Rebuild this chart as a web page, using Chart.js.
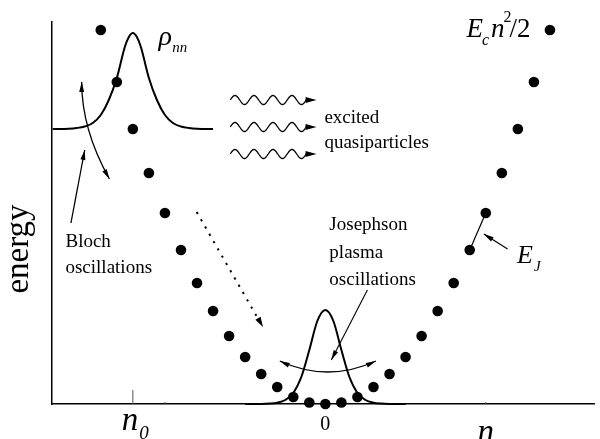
<!DOCTYPE html>
<html>
<head>
<meta charset="utf-8">
<script src="https://cdn.jsdelivr.net/npm/chart.js@4/dist/chart.umd.min.js"></script>
<style>
  html, body { margin: 0; padding: 0; background: #fff; }
  #wrap { width: 600px; height: 439px; }
</style>
</head>
<body>
<div id="wrap"><canvas id="chart"></canvas></div>
<script>
// charge states and their energies (arbitrary units)
const chargeStates = [-14,-13,-12,-11,-10,-9,-8,-7,-6,-5,-4,-3,-2,-1,0,1,2,3,4,5,6,7,8,9,10,11,12,13,14];
const energies = [374,322,275,231,191,154,121,93,68,47,30,17,7,1.5,0,1.5,7,17,30,47,68,93,121,154,191,231,275,322,374];

// wave packet rho_nn drawn on top of the n0 level
const rhoN = [-17,-16,-15.5,-15,-14.5,-14,-13.5,-13,-12.5,-12.25,-12,-11.75,-11.5,-11,-10.5,-10,-9.5,-9,-8.5,-8,-7];
const rhoE = [275,275.3,276,277.5,281,289,304,326,357,367,371,367,357,326,304,289,281,277.5,276,275.3,275];

// ground-state packet around n = 0
const groundN = [-5,-4,-3.5,-3,-2.5,-2,-1.5,-1,-0.5,0,0.5,1,1.5,2,2.5,3,3.5,4,5];
const groundE = [0,0.1,0.4,1.3,4,11,27,54,83,94,83,54,27,11,4,1.3,0.4,0.1,0];

// axis marks
const tickValues = [-12, 0, 10];
const tickLabels = ['n0', '0', 'n'];
const minorTicks = [-10, 10];

const SERIF = '"Liberation Serif", "DejaVu Serif", serif';

function arrowHead(ctx, x, y, ang, len, w) {
  ctx.save();
  ctx.translate(x, y);
  ctx.rotate(ang);
  ctx.beginPath();
  ctx.moveTo(0, 0);
  ctx.lineTo(-len, -w / 2);
  ctx.lineTo(-len, w / 2);
  ctx.closePath();
  ctx.fill();
  ctx.restore();
}

const annotations = {
  id: 'annotations',
  afterDatasetsDraw(chart) {
    const ctx = chart.ctx;
    const xs = chart.scales.x, ys = chart.scales.y;
    const X = v => xs.getPixelForValue(v);
    const Y = v => ys.getPixelForValue(v);
    ctx.save();
    ctx.fillStyle = '#000';
    ctx.strokeStyle = '#000';
    ctx.lineCap = 'butt';

    // axis tick marks
    ctx.lineWidth = 1;
    ctx.strokeStyle = '#555';
    ctx.beginPath();
    ctx.moveTo(X(tickValues[0]), Y(0));
    ctx.lineTo(X(tickValues[0]), Y(0) - 14);
    minorTicks.forEach(v => { ctx.moveTo(X(v), Y(0)); ctx.lineTo(X(v), Y(0) - 2); });
    ctx.stroke();
    ctx.strokeStyle = '#000';

    // Bloch curved double arrow
    ctx.lineWidth = 1.3;
    let p0 = [X(-15.19), Y(322)], c = [X(-15.19), Y(274.5)], p2 = [X(-13.46), Y(225)];
    ctx.beginPath();
    ctx.moveTo(p0[0], p0[1]);
    ctx.quadraticCurveTo(c[0], c[1], p2[0], p2[1]);
    ctx.stroke();
    arrowHead(ctx, p0[0], p0[1], Math.atan2(p0[1] - c[1], p0[0] - c[0]), 10, 5);
    arrowHead(ctx, p2[0], p2[1], Math.atan2(p2[1] - c[1], p2[0] - c[0]), 10, 5);

    // straight arrow from "Bloch"
    let a = [X(-15.86), Y(181)], b = [X(-15.0), Y(254)];
    ctx.beginPath(); ctx.moveTo(a[0], a[1]); ctx.lineTo(b[0], b[1]); ctx.stroke();
    arrowHead(ctx, b[0], b[1], Math.atan2(b[1] - a[1], b[0] - a[0]), 10, 5);

    // dotted arrow (relaxation)
    a = [X(-8.02), Y(192)]; b = [X(-3.89), Y(77)];
    ctx.save();
    ctx.lineWidth = 2;
    ctx.setLineDash([2.2, 6.2]);
    ctx.beginPath(); ctx.moveTo(a[0], a[1]); ctx.lineTo(b[0] - 3, b[1] - 5); ctx.stroke();
    ctx.restore();
    arrowHead(ctx, b[0], b[1], Math.atan2(b[1] - a[1], b[0] - a[0]), 10, 6);

    // plasma oscillation double arrow
    ctx.lineWidth = 1.3;
    p0 = [X(-2.84), Y(43)]; c = [X(0.15), Y(21)]; p2 = [X(3.15), Y(43)];
    ctx.beginPath();
    ctx.moveTo(p0[0], p0[1]);
    ctx.quadraticCurveTo(c[0], c[1], p2[0], p2[1]);
    ctx.stroke();
    arrowHead(ctx, p0[0], p0[1], Math.atan2(p0[1] - c[1], p0[0] - c[0]), 10, 5);
    arrowHead(ctx, p2[0], p2[1], Math.atan2(p2[1] - c[1], p2[0] - c[0]), 10, 5);

    // arrow from "Josephson plasma oscillations"
    a = [X(2.62), Y(114)]; b = [X(0.37), Y(44)];
    ctx.lineWidth = 1.1;
    ctx.beginPath(); ctx.moveTo(a[0], a[1]); ctx.lineTo(b[0], b[1]); ctx.stroke();
    arrowHead(ctx, b[0], b[1], Math.atan2(b[1] - a[1], b[0] - a[0]), 10, 5);

    // E_J coupling between neighbouring states
    ctx.lineWidth = 1.2;
    ctx.beginPath();
    ctx.moveTo(X(9), Y(energies[chargeStates.indexOf(9)]));
    ctx.lineTo(X(10), Y(energies[chargeStates.indexOf(10)]));
    ctx.stroke();
    a = [X(11.36), Y(155)]; b = [X(9.88), Y(170)];
    ctx.beginPath(); ctx.moveTo(a[0], a[1]); ctx.lineTo(b[0], b[1]); ctx.stroke();
    arrowHead(ctx, b[0], b[1], Math.atan2(b[1] - a[1], b[0] - a[0]), 10, 5);

    // wavy arrows: excited quasiparticles
    ctx.lineWidth = 1.3;
    [304, 277, 250].forEach(e => {
      const x0 = X(-5.93), x1 = X(-0.55), yc = Y(e);
      const xe = x1 - 10;
      ctx.beginPath();
      for (let x = x0; x <= xe; x += 0.5) {
        const yy = yc - 4.5 * Math.sin((x - x0) / 19 * 2 * Math.PI);
        if (x === x0) ctx.moveTo(x, yy); else ctx.lineTo(x, yy);
      }
      ctx.lineTo(x1 - 8, yc);
      ctx.stroke();
      arrowHead(ctx, x1, yc, 0, 11, 6);
    });

    // texts
    ctx.textBaseline = 'alphabetic';
    ctx.textAlign = 'left';
    const t = (s, x, y, f) => { ctx.font = f; ctx.fillText(s, x, y); return ctx.measureText(s).width; };

    t('excited', X(-0.06), Y(281), '19px ' + SERIF);
    t('quasiparticles', X(-0.06), Y(256), '19px ' + SERIF);
    t('Bloch', X(-16.2), Y(157), '19px ' + SERIF);
    t('oscillations', X(-16.2), Y(131), '19px ' + SERIF);
    t('Josephson', X(0.25), Y(174), '19px ' + SERIF);
    t('plasma', X(0.25), Y(146), '19px ' + SERIF);
    t('oscillations', X(0.25), Y(119), '19px ' + SERIF);

    // rho_nn
    t('\u03C1', X(-10.4), Y(359), 'italic 28px ' + SERIF);
    t('nn', X(-9.55), Y(352), 'italic 15px ' + SERIF);

    // E_c n^2/2
    let x = X(8.8);
    const yb = Y(367);
    x += t('E', x, yb, 'italic 27px ' + SERIF);
    t('c', x - 1, yb + 8, 'italic 16px ' + SERIF);
    x += 8;
    const wn = t('n', x, yb, 'italic 27px ' + SERIF);
    t('2', x + wn - 1, yb - 15, '16px ' + SERIF);
    x += wn + 5;
    t('/2', x, yb, '27px ' + SERIF);

    // E_J
    x = X(11.95);
    x += t('E', x, Y(141), 'italic 26px ' + SERIF);
    t('J', x + 1, Y(133), 'italic 15px ' + SERIF);

    // y-axis title
    ctx.save();
    ctx.translate(28, 249);
    ctx.rotate(-Math.PI / 2);
    ctx.textAlign = 'center';
    t('energy', 0, 0, '33px ' + SERIF);
    ctx.restore();

    // tick labels
    const yl = Y(0) + 26;
    ctx.textAlign = 'left';
    let nx = X(tickValues[0]) - 11;
    const w0 = t(tickLabels[0][0], nx, yl, 'italic 33px ' + SERIF);
    t(tickLabels[0][1], nx + w0 + 1, yl + 9, 'italic 19px ' + SERIF);
    ctx.textAlign = 'center';
    t(tickLabels[1], X(tickValues[1]), yl, '20px ' + SERIF);
    t(tickLabels[2], X(tickValues[2]), yl + 12, 'italic 33px ' + SERIF);

    ctx.restore();
  }
};

const toPts = (xsArr, ysArr) => xsArr.map((v, i) => ({ x: v, y: ysArr[i] }));

new Chart(document.getElementById('chart'), {
  type: 'scatter',
  data: {
    datasets: [
      {
        label: 'levels',
        data: toPts(chargeStates, energies),
        pointRadius: 5.3,
        pointBackgroundColor: '#000',
        pointBorderWidth: 0,
        showLine: false,
        clip: false
      },
      {
        label: 'rho',
        data: toPts(rhoN, rhoE),
        showLine: true,
        borderColor: '#000',
        borderWidth: 2,
        pointRadius: 0,
        cubicInterpolationMode: 'monotone',
        clip: false
      },
      {
        label: 'ground',
        data: toPts(groundN, groundE),
        showLine: true,
        borderColor: '#000',
        borderWidth: 2,
        pointRadius: 0,
        cubicInterpolationMode: 'monotone',
        clip: false
      }
    ]
  },
  options: {
    responsive: true,
    maintainAspectRatio: false,
    animation: false,
    layout: { padding: { left: 52, top: 22, right: 0, bottom: 35 } },
    plugins: { legend: { display: false }, tooltip: { enabled: false } },
    scales: {
      x: {
        type: 'linear', min: -17.04, max: 16.79,
        grid: { display: false, drawTicks: false },
        ticks: { display: false },
        border: { display: true, color: '#000', width: 1.5 }
      },
      y: {
        type: 'linear', min: 0, max: 382,
        grid: { display: false, drawTicks: false },
        ticks: { display: false },
        border: { display: true, color: '#000', width: 1.5 }
      }
    }
  },
  plugins: [annotations]
});
</script>
</body>
</html>
